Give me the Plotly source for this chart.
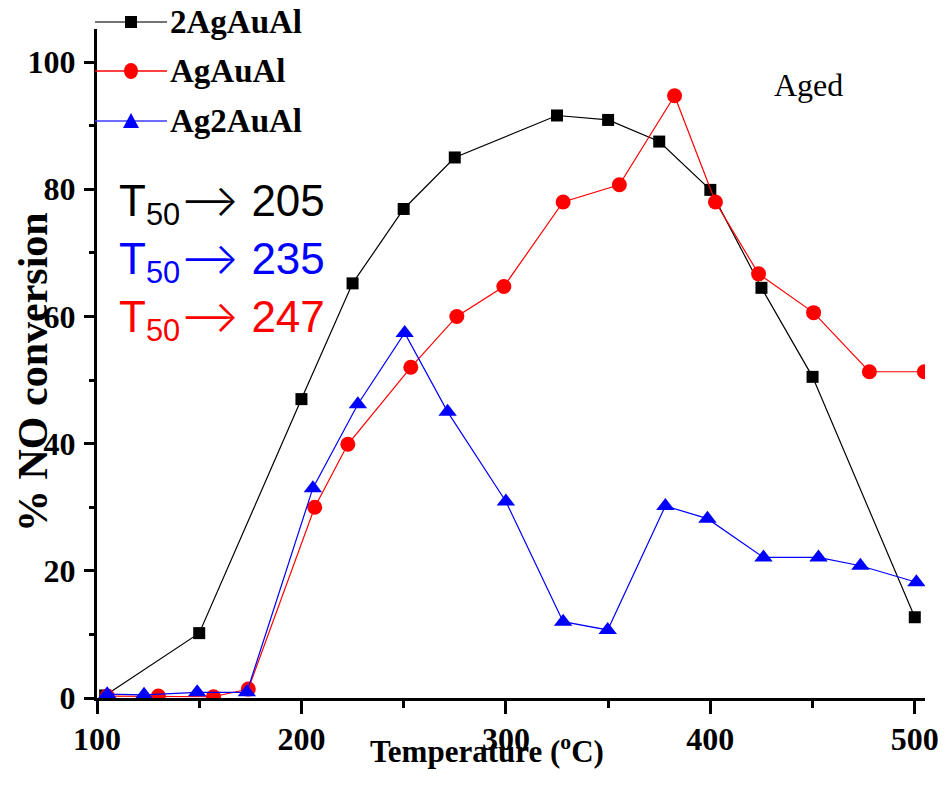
import plotly.graph_objects as go

# 2AgAuAl (black squares)
x_2agaual = [104, 150, 200, 225, 250, 275, 325, 350, 375, 400, 425, 450, 500]
y_2agaual = [0.4, 10.2, 47.0, 65.2, 76.9, 85.0, 91.6, 90.9, 87.5, 79.9, 64.5, 50.5, 12.7]

# AgAuAl (red circles)
x_agaual = [105, 130, 157, 174, 206.5, 222.7, 253.5, 276, 299, 328, 355.5, 382.5, 402.5, 423.6, 450.5, 477.8, 504.7]
y_agaual = [0.3, 0.3, 0.2, 1.4, 30.0, 39.9, 52.0, 60.0, 64.7, 78.0, 80.7, 94.7, 78.0, 66.7, 60.6, 51.3, 51.3]

# Ag2AuAl (blue triangles)
x_ag2aual = [105, 123, 149, 173.3, 205.6, 227.6, 250.5, 271.5, 300, 328, 349.8, 378, 398.6, 426, 452.9, 473.4, 500.8]
y_ag2aual = [0.6, 0.5, 0.9, 0.9, 33.0, 46.2, 57.4, 45.0, 30.9, 12.0, 10.7, 30.2, 28.2, 22.1, 22.1, 20.8, 18.2]

names = ["2AgAuAl", "AgAuAl", "Ag2AuAl"]
series_colors = ["black", "red", "blue"]
legend_line_colors = ["#444444", "red", "#3b3bff"]
t50_labels = ["205", "235", "247"]
t50_colors = ["black", "blue", "red"]

x_ticks = [100, 200, 300, 400, 500]
y_ticks = [0, 20, 40, 60, 80, 100]

SERIF = "Liberation Serif"
SANS = "Liberation Sans"

# pixel geometry of the plot area
L, R, T, B = 97, 925, 29, 698
W, H = R - L, B - T


def px(x):
    return (x - L) / W


def py(y):
    return (B - y) / H


fig = go.Figure()
fig.add_trace(go.Scatter(x=x_2agaual, y=y_2agaual, name=names[0], mode="lines+markers",
                         line=dict(color=series_colors[0], width=1.2),
                         marker=dict(symbol="square", size=12, color=series_colors[0])))
fig.add_trace(go.Scatter(x=x_agaual, y=y_agaual, name=names[1], mode="lines+markers",
                         line=dict(color=series_colors[1], width=1.2),
                         marker=dict(symbol="circle", size=15, color=series_colors[1])))
fig.add_trace(go.Scatter(x=x_ag2aual, y=y_ag2aual, name=names[2], mode="lines+markers",
                         line=dict(color=series_colors[2], width=1.2),
                         marker=dict(symbol="triangle-up", size=16, color=series_colors[2])))

axis_common = dict(showline=True, linecolor="black", linewidth=3, ticks="outside",
                   tickwidth=3, tickcolor="black", showgrid=False, zeroline=False,
                   mirror=False,
                   tickfont=dict(family=SERIF, size=32, color="black", weight="bold"))

fig.update_xaxes(range=[100, 505], tickvals=x_ticks, ticklen=13,
                 minor=dict(ticks="outside", ticklen=7, tickwidth=3, tickcolor="black", dtick=50, tick0=100),
                 ticklabelstandoff=-2, **axis_common)
fig.update_yaxes(range=[0, 105.2], tickvals=y_ticks, ticklen=10,
                 minor=dict(ticks="outside", ticklen=5, tickwidth=3, tickcolor="black", dtick=10, tick0=0),
                 ticklabelstandoff=2, **axis_common)

annotations = []
shapes = []
# axis titles
annotations.append(dict(text="Temperature (<sup>o</sup>C)", xref="paper", yref="paper",
                        x=px(487), y=py(749), xanchor="center", yanchor="middle",
                        showarrow=False, font=dict(family=SERIF, size=31, color="black", weight="bold")))
annotations.append(dict(text="% NO conversion", xref="paper", yref="paper",
                        x=px(33), y=py(372), xanchor="center", yanchor="middle",
                        textangle=-90, showarrow=False,
                        font=dict(family=SERIF, size=42, color="black", weight="bold")))
# Aged
annotations.append(dict(text="Aged", xref="paper", yref="paper",
                        x=px(808), y=py(85), xanchor="center", yanchor="middle",
                        showarrow=False, font=dict(family=SERIF, size=32, color="black")))
# T50 labels
t50_rows = [202, 260, 318]
arrow = "<span style=\"font-family:Inter;font-weight:300\">⟶</span>"
for lab, col, yy in zip(t50_labels, t50_colors, t50_rows):
    annotations.append(dict(text=f"T<sub>50</sub>{arrow} {lab}", xref="paper", yref="paper",
                            x=px(117), y=py(yy), xanchor="left", yanchor="middle",
                            showarrow=False, font=dict(family=SANS, size=44, color=col)))

# hand-drawn legend (top-left, partly above the plot area)
leg_rows = [22, 71, 121]
leg_symbols = ["square", "circle", "triangle"]
for name, lc, mc, sym, yy in zip(names, legend_line_colors, series_colors, leg_symbols, leg_rows):
    shapes.append(dict(type="line", xref="paper", yref="paper", x0=px(95), x1=px(167),
                       y0=py(yy), y1=py(yy), line=dict(color=lc, width=1.5)))
    cx, cy = 131, yy
    if sym == "square":
        shapes.append(dict(type="rect", xref="paper", yref="paper", x0=px(cx - 6), x1=px(cx + 6),
                           y0=py(cy - 6), y1=py(cy + 6), fillcolor=mc, line=dict(width=0)))
    elif sym == "circle":
        shapes.append(dict(type="circle", xref="paper", yref="paper", x0=px(cx - 7), x1=px(cx + 7),
                           y0=py(cy - 8), y1=py(cy + 8), fillcolor=mc, line=dict(width=0)))
    else:
        path = (f"M {px(cx - 8)} {py(cy + 7)} L {px(cx + 8)} {py(cy + 7)} "
                f"L {px(cx)} {py(cy - 8)} Z")
        shapes.append(dict(type="path", xref="paper", yref="paper", path=path,
                           fillcolor=mc, line=dict(width=0)))
    annotations.append(dict(text=name, xref="paper", yref="paper", x=px(168), y=py(yy),
                            xanchor="left", yanchor="middle", showarrow=False,
                            font=dict(family=SERIF, size=33, color="black", weight="bold")))

fig.update_layout(
    width=951, height=785,
    margin=dict(l=L, r=951 - R, t=T, b=785 - B, autoexpand=False),
    paper_bgcolor="white", plot_bgcolor="white",
    annotations=annotations, shapes=shapes,
    showlegend=False,
)

fig.write_html("out.html")
